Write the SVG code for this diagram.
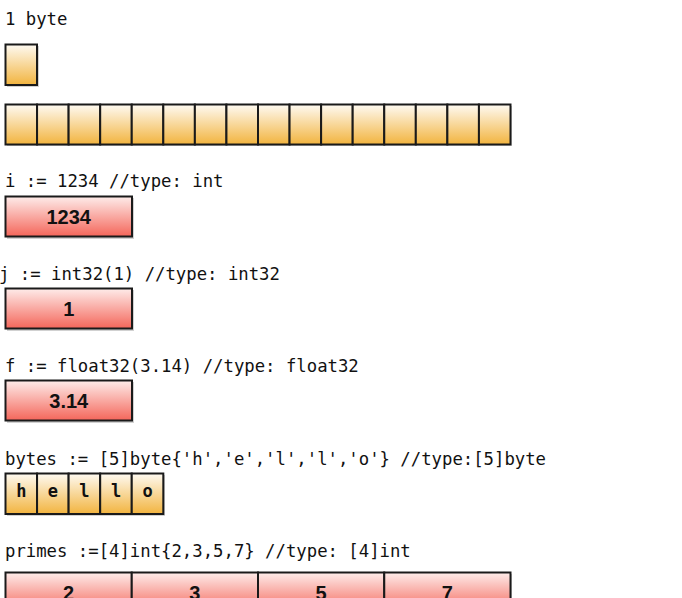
<svg xmlns="http://www.w3.org/2000/svg" width="682" height="598" viewBox="0 0 682 598">
<defs>
<linearGradient id="gy" x1="0" y1="0" x2="0" y2="1">
<stop offset="0" stop-color="#fefaf2"/>
<stop offset="1" stop-color="#f2b43f"/>
</linearGradient>
<linearGradient id="gr" x1="0" y1="0" x2="0" y2="1">
<stop offset="0" stop-color="#feecea"/>
<stop offset="1" stop-color="#f4665a"/>
</linearGradient>
<style>
.lbl{font-family:"DejaVu Sans Mono","Liberation Mono",monospace;font-size:17.3px;fill:#111}
.y{fill:url(#gy);stroke:#1a1a1a;stroke-width:2}
.r{fill:url(#gr);stroke:#1a1a1a;stroke-width:2}
.sh{fill:#999;opacity:0.45}
.num{font-family:"Liberation Sans",Arial,sans-serif;font-weight:bold;font-size:20px;fill:#111;text-anchor:middle}
.ch{font-family:"DejaVu Sans Mono","Liberation Mono",monospace;font-weight:bold;font-size:17px;fill:#111;text-anchor:middle}
</style>
</defs>
<rect width="682" height="598" fill="#fff"/>

<g id="one-byte">
<text class="lbl" x="5" y="25">1 byte</text>
<rect class="sh" x="7" y="46" width="32" height="41"/>
<rect class="y" x="5.5" y="44.5" width="31.5" height="40.5"/>
</g>

<g id="byte-array">
<rect class="sh" x="7" y="106" width="505" height="40"/>
<rect class="y" x="5.5" y="104.5" width="31.56" height="40"/>
<rect class="y" x="37.06" y="104.5" width="31.56" height="40"/>
<rect class="y" x="68.62" y="104.5" width="31.56" height="40"/>
<rect class="y" x="100.19" y="104.5" width="31.56" height="40"/>
<rect class="y" x="131.75" y="104.5" width="31.56" height="40"/>
<rect class="y" x="163.31" y="104.5" width="31.56" height="40"/>
<rect class="y" x="194.87" y="104.5" width="31.56" height="40"/>
<rect class="y" x="226.44" y="104.5" width="31.56" height="40"/>
<rect class="y" x="258" y="104.5" width="31.56" height="40"/>
<rect class="y" x="289.56" y="104.5" width="31.56" height="40"/>
<rect class="y" x="321.12" y="104.5" width="31.56" height="40"/>
<rect class="y" x="352.69" y="104.5" width="31.56" height="40"/>
<rect class="y" x="384.25" y="104.5" width="31.56" height="40"/>
<rect class="y" x="415.81" y="104.5" width="31.56" height="40"/>
<rect class="y" x="447.37" y="104.5" width="31.56" height="40"/>
<rect class="y" x="478.94" y="104.5" width="31.56" height="40"/>
</g>

<g id="var-i">
<text class="lbl" x="5" y="187">i := 1234 //type: int</text>
<rect class="sh" x="7" y="198" width="127" height="41"/>
<rect class="r" x="5.5" y="196.5" width="126.5" height="40"/>
<text class="num" x="68.75" y="224">1234</text>
</g>

<g id="var-j">
<text class="lbl" x="-1" y="280">j := int32(1) //type: int32</text>
<rect class="sh" x="7" y="290" width="127" height="41"/>
<rect class="r" x="5.5" y="288.5" width="126.5" height="40"/>
<text class="num" x="68.75" y="316">1</text>
</g>

<g id="var-f">
<text class="lbl" x="5" y="372">f := float32(3.14) //type: float32</text>
<rect class="sh" x="7" y="382" width="127" height="41"/>
<rect class="r" x="5.5" y="380.5" width="126.5" height="40"/>
<text class="num" x="68.75" y="408">3.14</text>
</g>

<g id="var-bytes">
<text class="lbl" x="5" y="465">bytes := [5]byte{'h','e','l','l','o'} //type:[5]byte</text>
<rect class="sh" x="7" y="475" width="158" height="41"/>
<rect class="y" x="5.5" y="473.5" width="31.56" height="40.5"/>
<rect class="y" x="37.06" y="473.5" width="31.56" height="40.5"/>
<rect class="y" x="68.62" y="473.5" width="31.56" height="40.5"/>
<rect class="y" x="100.19" y="473.5" width="31.56" height="40.5"/>
<rect class="y" x="131.75" y="473.5" width="31.56" height="40.5"/>
<text class="ch" x="21.3" y="497">h</text>
<text class="ch" x="52.8" y="497">e</text>
<text class="ch" x="84.4" y="497">l</text>
<text class="ch" x="116" y="497">l</text>
<text class="ch" x="147.5" y="497">o</text>
</g>

<g id="var-primes">
<text class="lbl" x="5" y="557">primes :=[4]int{2,3,5,7} //type: [4]int</text>
<rect class="sh" x="7" y="574" width="505" height="41"/>
<rect class="r" x="5.5" y="572.5" width="126.25" height="40"/>
<rect class="r" x="131.75" y="572.5" width="126.25" height="40"/>
<rect class="r" x="258" y="572.5" width="126.25" height="40"/>
<rect class="r" x="384.25" y="572.5" width="126.25" height="40"/>
<text class="num" x="68.6" y="600">2</text>
<text class="num" x="194.9" y="600">3</text>
<text class="num" x="321.1" y="600">5</text>
<text class="num" x="447.4" y="600">7</text>
</g>

<g id="connectors"/>
</svg>
